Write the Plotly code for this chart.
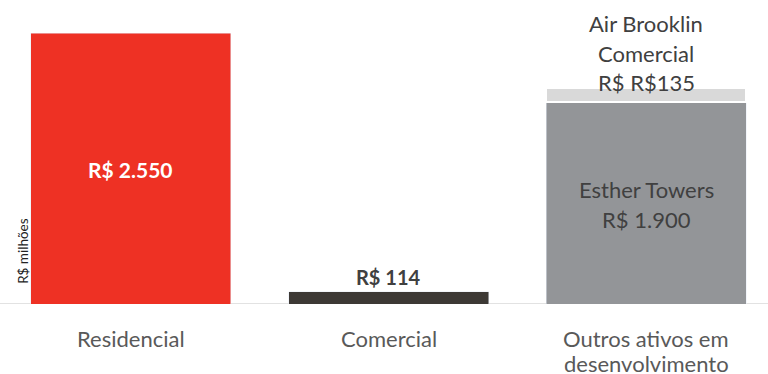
import plotly.graph_objects as go

# Data (R$ milhões)
categories = ["Residencial", "Comercial", "Outros ativos em<br>desenvolvimento"]
residencial = [2550, None, None]
comercial = [None, 114, None]
esther_towers = [None, None, 1900]
air_brooklin = [None, None, 135]

RED = "#EE3124"
DARK = "#3D3935"
GRAY = "#939598"
LIGHT = "#D9D9D9"
TEXT = "#404040"
FONT = "Lato"

x = [0, 1, 2]


def brl(v):
    return f"{v:,.0f}".replace(",", ".")


fig = go.Figure()
fig.add_trace(go.Bar(x=x, y=residencial, marker_color=RED, width=0.776))
fig.add_trace(go.Bar(x=x, y=comercial, marker_color=DARK, width=0.776))
fig.add_trace(go.Bar(x=x, y=esther_towers, marker_color=GRAY, width=0.776))
fig.add_trace(go.Bar(x=x, y=air_brooklin, marker_color=LIGHT, width=0.776,
                     marker_line=dict(color="white", width=2)))

ann = []
# value labels
ann.append(dict(x=0, y=residencial[0] / 2, text=f"<b>R$ {brl(residencial[0])}</b>", yshift=-1,
                font=dict(family=FONT, size=21, color="white"), showarrow=False))
ann.append(dict(x=1, y=comercial[1], text=f"<b>R$ {brl(comercial[1])}</b>", yanchor="bottom",
                yshift=1, font=dict(family=FONT, size=20, color=TEXT), showarrow=False))
for i, line in enumerate(["Esther Towers", f"R$ {brl(esther_towers[2])}"]):
    ann.append(dict(x=2, y=esther_towers[2] / 2, text=line, yshift=14 - 30 * i,
                    font=dict(family=FONT, size=22, color=TEXT), showarrow=False))
top_lines = ["Air Brooklin", "Comercial", f"R$ R${brl(air_brooklin[2])}"]
top_total = esther_towers[2] + air_brooklin[2]
for i, line in enumerate(top_lines):
    ann.append(dict(x=2, y=top_total, text=line, yshift=5 + 29.5 * (len(top_lines) - 1 - i),
                    yanchor="middle", font=dict(family=FONT, size=22, color=TEXT),
                    showarrow=False))
# category labels
for xi, cat in zip(x, categories):
    for j, line in enumerate(cat.split("<br>")):
        ann.append(dict(x=xi, y=0, yref="y", text=line, yanchor="middle",
                        yshift=-34 - 25 * j, font=dict(family=FONT, size=22, color="#595959"),
                        showarrow=False))
# axis title
ann.append(dict(x=0, xref="paper", xanchor="left", xshift=13, y=500, text="R$ milhões",
                textangle=-90, font=dict(family=FONT, size=13.5, color="#222222"),
                showarrow=False))

fig.update_layout(
    barmode="stack",
    width=768, height=374,
    margin=dict(l=0, r=0, t=0, b=70),
    paper_bgcolor="white", plot_bgcolor="white",
    showlegend=False,
    annotations=ann,
    xaxis=dict(range=[-0.508, 2.472], visible=False, fixedrange=True),
    yaxis=dict(range=[0, 2861], visible=False, fixedrange=True),
    shapes=[dict(type="line", xref="paper", x0=0, x1=1, yref="y", y0=0, y1=0,
                 line=dict(color="#D9D9D9", width=1.5), layer="below")],
)

fig.write_html("out.html")
